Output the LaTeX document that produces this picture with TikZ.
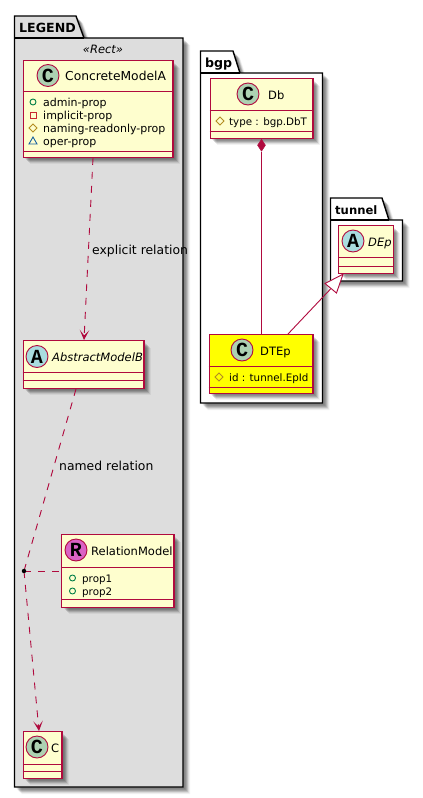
\documentclass[tikz,border=0pt]{standalone}
\usepackage{fontspec}
\setmainfont{DejaVu Sans}
\newfontfamily\spotfont[Scale=1]{Liberation Mono}
\usetikzlibrary{arrows.meta,shadows,shapes.geometric}
\definecolor{umlline}{HTML}{B00A3E}
\definecolor{umlfill}{HTML}{FEFECE}
\definecolor{legendbg}{HTML}{DDDDDD}
\definecolor{hiyellow}{HTML}{FFFF00}
\definecolor{spotC}{HTML}{ADD1B2}
\definecolor{spotA}{HTML}{A9DCDF}
\definecolor{spotR}{HTML}{DA62C4}
\definecolor{attrpub}{HTML}{038048}
\definecolor{attrpriv}{HTML}{C82930}
\definecolor{attrprot}{HTML}{B38D22}
\definecolor{attrpkg}{HTML}{1963A0}
\tikzset{
  softshadow/.style={
    general shadow={shadow xshift=2pt,shadow yshift=-2pt,fill=black,opacity=.08},
    general shadow={shadow xshift=3pt,shadow yshift=-3pt,fill=black,opacity=.12},
    general shadow={shadow xshift=4pt,shadow yshift=-4pt,fill=black,opacity=.14},
    general shadow={shadow xshift=5pt,shadow yshift=-5pt,fill=black,opacity=.12},
    general shadow={shadow xshift=6pt,shadow yshift=-6pt,fill=black,opacity=.08},
    general shadow={shadow xshift=7pt,shadow yshift=-7pt,fill=black,opacity=.05}},
  pkg/.style={draw=black,line width=1.4pt,line join=miter,softshadow},
  pkgline/.style={draw=black,line width=1.2pt},
  pkgtitle/.style={inner sep=0pt,anchor=base west,font=\fontsize{12.6}{16}\selectfont\bfseries},
  classbox/.style={draw=umlline,line width=1.2pt,rectangle,inner sep=0pt,softshadow},
  sepline/.style={draw=umlline,line width=.9pt},
  spot/.style={circle,draw=umlline,line width=.9pt,minimum size=22pt,inner sep=0pt,
     font=\fontsize{20}{20}\spotfont\bfseries},
  cname/.style={inner sep=0pt,anchor=base west,font=\fontsize{11.5}{14}\selectfont},
  attr/.style={inner sep=0pt,anchor=base west,font=\fontsize{10.2}{13}\selectfont},
  elabel/.style={inner sep=0pt,anchor=base west,font=\fontsize{12.4}{14}\selectfont},
  conn/.style={draw=umlline,line width=.9pt},
  dashconn/.style={conn,dash pattern=on 7pt off 7pt},
  opentip/.style={-{Stealth[length=10pt,width=9.5pt,inset=5.5pt]}},
  iconline/.style={line width=.9pt,fill=none},
}
% name, x1, y1, x2, y2, fill
\newcommand\umlclass[6]{%
  \pgfmathsetmacro\cxx{(#2+#4)/2}\pgfmathsetmacro\cyy{(#3+#5)/2}%
  \pgfmathsetmacro\ww{#4-#2-1.2}\pgfmathsetmacro\hh{#5-#3-1.2}%
  \node[classbox,fill=#6,minimum width=\ww pt,minimum height=\hh pt] (#1) at (\cxx,\cyy) {};}
\newcommand\umlsep[2]{\draw[sepline] (#1.west |- 0,#2) -- (#1.east |- 0,#2);}
\newcommand\iconpub[2]{\draw[iconline,draw=attrpub] (#1,#2) circle (3pt);}
\newcommand\iconpriv[2]{\draw[iconline,draw=attrpriv] (#1-3,#2-3) rectangle (#1+3,#2+3);}
\newcommand\iconprot[2]{\draw[iconline,draw=attrprot] (#1-4,#2) -- (#1,#2-4) -- (#1+4,#2) -- (#1,#2+4) -- cycle;}
\newcommand\iconpkg[2]{\draw[iconline,draw=attrpkg] (#1-4,#2+3) -- (#1,#2-4) -- (#1+4,#2+3) -- cycle;}
\begin{document}
\begin{tikzpicture}[x=1pt,y=-1pt]
\useasboundingbox[fill=white] (0,0) rectangle (423,798);

% LEGEND package
\path[pkg,fill=legendbg] (14.5,38) -- (14.5,16) -- (76,16) -- (84,38) -- (183,38) -- (183,787) -- (14.5,787) -- cycle;
\draw[pkgline] (14.5,38) -- (84,38);
\node[pkgtitle] (legendtitle) at (19,32) {LEGEND};
\node[inner sep=0pt,anchor=base,font=\fontsize{11.5}{14}\selectfont\itshape] (rect) at (103,53) {«Rect»};

% bgp package
\path[pkg,fill=white] (200.5,73) -- (200.5,51) -- (233,51) -- (240,73) -- (322.5,73) -- (322.5,403) -- (200.5,403) -- cycle;
\draw[pkgline] (200.5,73) -- (240,73);
\node[pkgtitle] (bgptitle) at (205,67) {bgp};

% tunnel package
\path[pkg,fill=white] (330.5,220) -- (330.5,198) -- (382,198) -- (389,220) -- (402.5,220) -- (402.5,281) -- (330.5,281) -- cycle;
\draw[pkgline] (330.5,220) -- (389,220);
\node[pkgtitle,font=\fontsize{11.6}{16}\selectfont\bfseries] (tunneltitle) at (335,214) {tunnel};

% ConcreteModelA
\umlclass{cma}{22.5}{60}{173.5}{158}{umlfill}
\umlsep{cma}{91}\umlsep{cma}{151}
\node[spot,fill=spotC] (cmaspot) at (48,75.5) {C};
\node[cname,font=\fontsize{12.3}{14}\selectfont] (cmaname) at (65,80) {ConcreteModelA};
\tikzset{attr/.append style={font=\fontsize{11}{13}\selectfont}}
\iconpub{33}{102}\node[attr] (a1) at (43,106) {admin-prop};
\iconpriv{33}{115}\node[attr] (a2) at (43,119) {implicit-prop};
\iconprot{33}{128}\node[attr] (a3) at (43,132) {naming-readonly-prop};
\iconpkg{33}{141}\node[attr] (a4) at (43,145) {oper-prop};
\tikzset{attr/.append style={font=\fontsize{10.3}{13}\selectfont}}

% AbstractModelB
\umlclass{amb}{22.5}{340}{144.5}{389}{umlfill}
\umlsep{amb}{372}\umlsep{amb}{380}
\node[spot,fill=spotA] (ambspot) at (37,356.5) {A};
\node[cname,font=\fontsize{11.5}{14}\selectfont\itshape] (ambname) at (52,361) {AbstractModelB};

% RelationModel
\umlclass{rel}{61}{534}{174.5}{608}{umlfill}
\umlsep{rel}{567}\umlsep{rel}{599}
\node[spot,fill=spotR] (relspot) at (76,550) {R};
\node[cname] (relname) at (91,555) {RelationModel};
\iconpub{72.5}{578}\node[attr] (r1) at (82,582) {prop1};
\iconpub{72.5}{591}\node[attr] (r2) at (82,595) {prop2};

% C
\umlclass{cc}{22.5}{731}{62.5}{779}{umlfill}
\umlsep{cc}{764}\umlsep{cc}{771}
\node[spot,fill=spotC] (ccspot) at (37,747) {C};
\node[cname] (ccname) at (51,752) {C};

% Db
\umlclass{db}{209.5}{78}{313.5}{139}{umlfill}
\umlsep{db}{110}\umlsep{db}{131}
\node[spot,fill=spotC] (dbspot) at (248,94) {C};
\node[cname] (dbname) at (268,99) {Db};
\iconprot{220}{121}\node[attr] (d1) at (229,125) {type : bgp.DbT};

% DTEp
\umlclass{dte}{208.5}{334}{313.5}{394}{hiyellow}
\umlsep{dte}{366}\umlsep{dte}{387}
\node[spot,fill=spotC] (dtespot) at (242,350) {C};
\node[cname] (dtename) at (260,355) {DTEp};
\iconprot{219}{377}\node[attr] (dt1) at (229,381) {id : tunnel.EpId};

% DEp
\umlclass{dep}{338}{225}{394}{274}{umlfill}
\umlsep{dep}{257}\umlsep{dep}{266}
\node[spot,fill=spotA] (depspot) at (353,241) {A};
\node[cname,font=\fontsize{11.5}{14}\selectfont\itshape] (depname) at (368,246) {DEp};

% connectors
\draw[dashconn,opentip] ([xshift=-5pt]cma.south) -- ([xshift=.5pt]amb.north);
\node[elabel] (l1) at (92,254) {explicit relation};

\coordinate (assocpt) at (24,571);
\draw[dashconn] ([xshift=-7.5pt]amb.south) -- (assocpt);
\draw[dashconn,opentip] (assocpt) -- ([xshift=-3.5pt]cc.north);
\draw[dashconn] (assocpt) -- (rel.west |- assocpt);
\node[circle,fill=black,inner sep=0pt,minimum size=4.5pt] (assoc) at (assocpt) {};
\node[elabel] (l2) at (59,470) {named relation};

% composition Db -- DTEp
\node[diamond,fill=umlline,draw=umlline,line width=.5pt,minimum width=8pt,minimum height=12pt,inner sep=0pt,aspect=.6,anchor=north] (comp) at (db.south) {};
\draw[conn] (comp.south) -- (comp.south |- dte.north);

% generalization DTEp -- DEp
\coordinate (gentip) at (343,274.2);
\coordinate (genbase) at (331,288.5);
\draw[conn] (genbase) -- ([xshift=27pt]dte.north);
\draw[conn,fill=white] (gentip) -- (325,283.5) -- (336.5,293) -- cycle;
\end{tikzpicture}
\end{document}
